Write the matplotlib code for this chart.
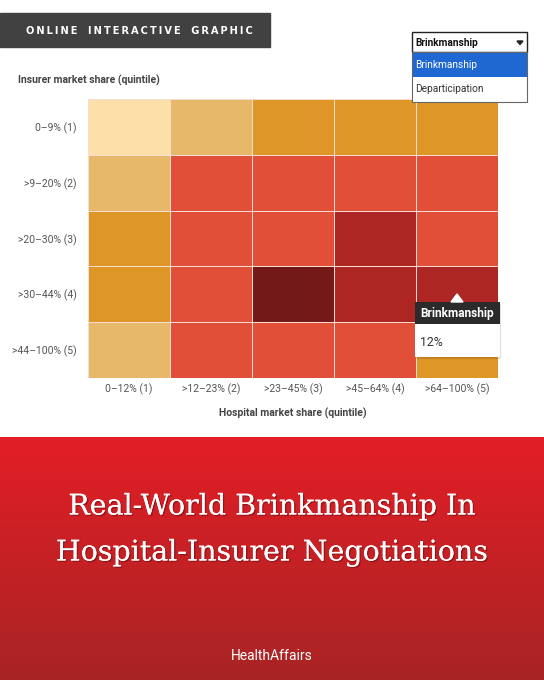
import numpy as np
import matplotlib
matplotlib.use("Agg")
import matplotlib.pyplot as plt
import matplotlib.patheffects as pe
from matplotlib.colors import ListedColormap, BoundaryNorm
from matplotlib.patches import Rectangle, Polygon

# ---- data ----
hospital_labels = ["0\u201312% (1)", ">12\u201323% (2)", ">23\u201345% (3)", ">45\u201364% (4)", ">64\u2013100% (5)"]
insurer_labels = ["0\u20139% (1)", ">9\u201320% (2)", ">20\u201330% (3)", ">30\u201344% (4)", ">44\u2013100% (5)"]
# brinkmanship share (%) per cell, rows = insurer quintile (top to bottom), cols = hospital quintile
brinkmanship = [
    [1, 3, 5, 5, 5],
    [3, 8, 8, 8, 8],
    [5, 8, 8, 12, 8],
    [5, 8, 16, 12, 12],
    [3, 8, 8, 8, 5],
]
bin_edges = [0, 2, 4, 6.5, 10, 14, 20]
bin_colors = ["#FDDFA8", "#E8B86A", "#DE9626", "#E14F38", "#AE2623", "#731917"]
tooltip_title = "Brinkmanship"
tooltip_value = "12%"
menu_options = ["Brinkmanship", "Departicipation"]
banner_text = "ONLINE INTERACTIVE GRAPHIC"

W, H = 544, 680
fig = plt.figure(figsize=(W / 100, H / 100), dpi=100)
fig.patch.set_facecolor("white")

narrow = ["Roboto", "DejaVu Sans"]

# background overlay axes (pixel coords)
bg = fig.add_axes([0, 0, 1, 1], zorder=0)
bg.set_xlim(0, W); bg.set_ylim(H, 0); bg.axis("off")

# banner
bg.add_patch(Rectangle((0, 13), 270, 34, color="#414141"))
spaced = "   ".join("\u2009".join(w) for w in banner_text.split(" "))
bg.text(26, 31, spaced, color="white", fontsize=7.1, fontweight="bold",
        va="center", ha="left", family="DejaVu Sans")

# red bottom panel gradient
grad = np.linspace(0, 1, 256).reshape(-1, 1)
top = np.array([0xE3, 0x1E, 0x26]) / 255
bot = np.array([0xA8, 0x24, 0x24]) / 255
img = top[None, None, :] * (1 - grad[:, :, None]) + bot[None, None, :] * grad[:, :, None]
bg.imshow(img, extent=[0, W, H, 437], aspect="auto", zorder=0)
bg.set_xlim(0, W); bg.set_ylim(H, 0)
shadow = [pe.withSimplePatchShadow(offset=(1, -1), shadow_rgbFace="#5a0f10", alpha=0.5), pe.Normal()]
bg.text(W / 2, 507, "Real-World Brinkmanship In", color="white", fontsize=20.5,
        family="DejaVu Serif", ha="center", va="center", path_effects=shadow)
bg.text(W / 2, 553, "Hospital-Insurer Negotiations", color="white", fontsize=20.5,
        family="DejaVu Serif", ha="center", va="center", path_effects=shadow)
bg.text(W / 2, 656, "HealthAffairs", color="white", fontsize=10,
        family=narrow, ha="center", va="center")

# axis titles
bg.text(18, 80, "Insurer market share (quintile)", color="#444444", fontsize=7.5,
        fontweight="bold", family=narrow, ha="left", va="center")
bg.text(293, 413, "Hospital market share (quintile)", color="#444444", fontsize=7.5,
        fontweight="bold", family=narrow, ha="center", va="center")

# heatmap axes
x0, x1, y0, y1 = 88, 498, 99, 378
ax = fig.add_axes([x0 / W, 1 - y1 / H, (x1 - x0) / W, (y1 - y0) / H], zorder=1)
cmap = ListedColormap(bin_colors)
norm = BoundaryNorm(bin_edges, cmap.N)
data = np.array(brinkmanship, dtype=float)
ax.pcolormesh(np.arange(6), np.arange(6), data, cmap=cmap, norm=norm,
              edgecolors="#F6DCD2", linewidth=0.6)
ax.set_xlim(0, 5); ax.set_ylim(5, 0)
ax.set_xticks(np.arange(5) + 0.5)
ax.set_xticklabels(hospital_labels, family=narrow, fontsize=7.5, color="#555555")
ax.set_yticks(np.arange(5) + 0.5)
ax.set_yticklabels(insurer_labels, family=narrow, fontsize=7.5, color="#555555")
ax.tick_params(axis="x", length=0, pad=4)
ax.tick_params(axis="y", length=0, pad=8)
for s in ax.spines.values():
    s.set_visible(False)

# foreground overlay for UI elements
fg = fig.add_axes([0, 0, 1, 1], zorder=2)
fg.set_xlim(0, W); fg.set_ylim(H, 0); fg.axis("off"); fg.patch.set_alpha(0)

# dropdown
fg.add_patch(Rectangle((412, 32), 115, 20, facecolor="white", edgecolor="#222222", lw=1.0))
fg.text(415, 42.5, menu_options[0], fontsize=7.3, fontweight="bold", family=narrow,
        color="#111111", va="center", ha="left")
fg.add_patch(Polygon([[517, 41], [523, 41], [520, 44.5]], closed=True, color="#222222"))
fg.add_patch(Rectangle((412, 52), 115, 50, facecolor="white", edgecolor="#666666", lw=0.8))
fg.add_patch(Rectangle((412.5, 53), 114, 24, facecolor="#1F67D1", edgecolor="none"))
fg.text(415, 65.5, menu_options[0], fontsize=7.3, family=narrow, color="white",
        va="center", ha="left")
fg.text(415, 89.5, menu_options[1], fontsize=7.3, family=narrow, color="#333333",
        va="center", ha="left")

# tooltip
fg.add_patch(Rectangle((416, 304), 85, 55, facecolor="#000000", alpha=0.12, edgecolor="none"))
fg.add_patch(Rectangle((415, 302), 85, 55, facecolor="white", edgecolor="none"))
fg.add_patch(Rectangle((415, 302), 85, 22, facecolor="#2B2B2B", edgecolor="none"))
fg.add_patch(Polygon([[451, 302], [463, 302], [457, 294]], closed=True, color="white"))
fg.text(420, 313.5, tooltip_title, fontsize=8.6, fontweight="bold", family=narrow,
        color="white", va="center", ha="left")
fg.text(420, 342, tooltip_value, fontsize=8.8, family=narrow, color="#333333",
        va="center", ha="left")

fig.savefig("out.png", dpi=100)
